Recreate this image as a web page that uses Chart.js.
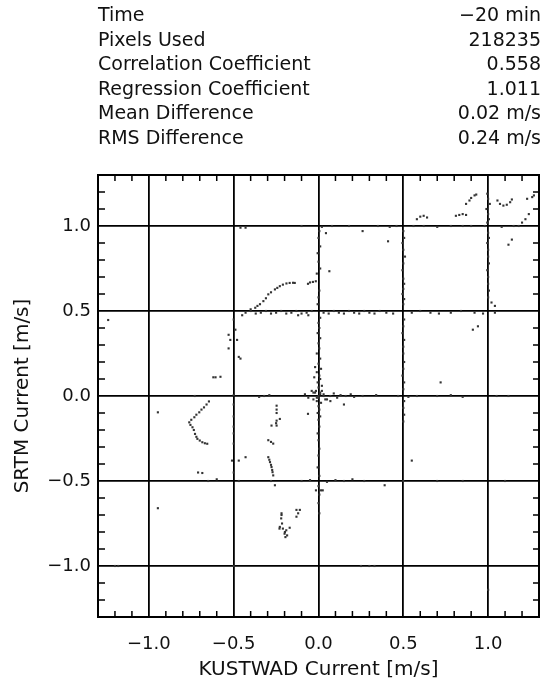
<!DOCTYPE html>
<html>
<head>
<meta charset="utf-8">
<script src="https://cdn.jsdelivr.net/npm/chart.js@4.4.1/dist/chart.umd.min.js"></script>
<style>
  html, body { margin: 0; padding: 0; background: #fff; }
  #wrap { width: 543px; height: 684px; }
</style>
</head>
<body>
<div id="wrap"><canvas id="scatter-chart" width="543" height="684"></canvas></div>
<script>
// Stats block above the plot
const statLabels = ["Time", "Pixels Used", "Correlation Coefficient", "Regression Coefficient", "Mean Difference", "RMS Difference"];
const statValues = ["\u221220 min", "218235", "0.558", "1.011", "0.02 m/s", "0.24 m/s"];

// Axis ticks (m/s)
const tickValues = [-1.0, -0.5, 0.0, 0.5, 1.0];
const axisMin = -1.3;
const axisMax = 1.3;

// Scatter points [KUSTWAD, SRTM], grouped by cluster
const arcPts = [[-0.4,0.51],[-0.373,0.519],[-0.36,0.53],[-0.345,0.54],[-0.325,0.558],[-0.31,0.575],[-0.296,0.598],[-0.28,0.61],[-0.257,0.627],[-0.243,0.636],[-0.228,0.646],[-0.21,0.655],[-0.189,0.662],[-0.17,0.665],[-0.15,0.666],[-0.14,0.665],[-0.062,0.66],[-0.05,0.668],[-0.033,0.671],[-0.016,0.675],[0.064,0.734]];
const zeroColPts = [[0.005,0.97],[0.0,0.93],[0.01,0.88],[-0.005,0.84],[0.0,0.79],[0.01,0.75],[-0.01,0.72],[0.005,0.62],[0.0,0.58],[-0.005,0.54],[0.01,0.46],[0.0,0.43],[0.005,0.4],[-0.005,0.37],[0.01,0.34],[0.0,0.31],[0.005,0.28],[-0.01,0.25],[0.01,0.22],[0.0,0.19],[-0.02,0.17],[0.015,0.16],[-0.01,0.14],[0.005,0.12],[-0.025,0.11],[0.01,0.1],[-0.005,0.08],[0.02,0.06],[0.0,0.05],[-0.015,0.03],[0.01,0.02],[0.0,-0.01],[-0.01,-0.03],[0.015,-0.04],[0.0,-0.06],[0.005,-0.08],[-0.005,-0.1],[0.01,-0.12],[0.0,-0.14],[0.005,-0.18],[-0.005,-0.22],[0.0,-0.26],[0.005,-0.31],[0.0,-0.35],[-0.005,-0.42],[0.005,-0.47],[0.0,-0.53],[0.005,-0.58],[0.0,-0.63],[0.005,-0.69]];
const halfColPts = [[0.5,0.97],[0.505,0.93],[0.495,0.9],[0.5,0.86],[0.51,0.82],[0.5,0.78],[0.495,0.74],[0.5,0.69],[0.505,0.66],[0.5,0.63],[0.495,0.6],[0.505,0.57],[0.5,0.54],[0.505,0.45],[0.5,0.41],[0.495,0.37],[0.505,0.33],[0.5,0.29],[0.5,0.25],[0.505,0.2],[0.5,0.16],[0.495,0.12],[0.505,0.08],[0.5,0.04],[0.505,-0.03],[0.5,-0.07],[0.505,-0.11],[0.5,-0.15]];
const oneColPts = [[0.995,1.19],[1.0,1.16],[1.01,1.13],[0.99,1.1],[1.0,1.07],[1.005,1.04],[0.995,1.02],[1.0,0.96],[1.005,0.93],[0.995,0.9],[1.0,0.86],[1.0,0.82],[1.005,0.78],[0.995,0.74],[1.0,0.7],[1.0,0.66],[1.005,0.62],[1.0,0.58],[1.02,0.55],[1.04,0.53]];
const halfRowPts = [[-0.43,0.49],[-0.4,0.5],[-0.37,0.485],[-0.34,0.49],[-0.31,0.5],[-0.28,0.485],[-0.25,0.49],[-0.22,0.5],[-0.19,0.485],[-0.16,0.49],[-0.13,0.5],[-0.1,0.485],[-0.07,0.49],[-0.04,0.5],[0.03,0.49],[0.06,0.485],[0.09,0.5],[0.12,0.49],[0.15,0.485],[0.18,0.5],[0.21,0.49],[0.24,0.485],[0.27,0.5],[0.3,0.49],[0.33,0.485],[0.36,0.5],[0.4,0.49],[0.44,0.485],[0.55,0.49],[0.6,0.5],[0.66,0.49],[0.71,0.485],[0.78,0.49],[0.84,0.5],[0.92,0.49],[0.97,0.485],[1.04,0.49]];
const zeroRowPts = [[-0.73,0.0],[-0.5,0.005],[-0.35,-0.005],[-0.32,0.0],[-0.29,0.005],[-0.08,0.01],[-0.06,-0.01],[-0.03,0.02],[0.03,0.01],[0.05,-0.02],[0.07,0.0],[0.09,0.015],[0.11,-0.01],[0.13,0.005],[0.16,0.0],[0.19,0.01],[0.21,-0.005],[0.26,0.0],[0.34,0.005],[0.47,0.0],[0.53,-0.005],[0.58,0.0],[0.7,0.0],[0.78,0.005],[0.85,-0.005],[1.05,0.0],[1.12,0.0]];
const lowRowPts = [[-0.65,-0.5],[-0.6,-0.49],[-0.47,-0.5],[-0.28,-0.5],[-0.1,-0.5],[-0.05,-0.495],[0.05,-0.505],[0.1,-0.495],[0.15,-0.5],[0.2,-0.49],[0.27,-0.5],[0.39,-0.525],[0.5,-0.5],[0.7,-0.5],[0.85,-0.5],[1.1,-0.5]];
const topRowPts = [[-0.46,0.99],[-0.43,0.99],[-0.1,1.0],[0.02,0.995],[0.08,1.0],[0.18,1.0],[0.35,1.0],[0.42,0.995],[0.46,1.0],[0.56,1.0],[0.62,1.0],[0.7,0.995],[0.78,1.0],[0.85,1.0],[0.9,1.0],[0.98,1.0],[1.08,0.995],[1.15,1.0]];
const negHalfColPts = [[-0.49,0.39],[-0.53,0.36],[-0.52,0.33],[-0.48,0.33],[-0.53,0.28],[-0.47,0.23],[-0.46,0.22],[-0.5,0.45],[-0.5,-0.05],[-0.5,-0.12],[-0.5,-0.18],[-0.5,-0.22],[-0.5,-0.28],[-0.51,-0.38],[-0.47,-0.38],[-0.43,-0.36],[-0.5,-0.45]];
const veePts = [[-0.646,-0.032],[-0.66,-0.05],[-0.675,-0.067],[-0.69,-0.08],[-0.703,-0.096],[-0.72,-0.11],[-0.732,-0.125],[-0.75,-0.14],[-0.762,-0.155],[-0.755,-0.17],[-0.743,-0.184],[-0.735,-0.2],[-0.728,-0.223],[-0.72,-0.24],[-0.714,-0.252],[-0.7,-0.262],[-0.685,-0.272],[-0.67,-0.278],[-0.656,-0.281]];
const topRightPts = [[0.58,1.04],[0.6,1.055],[0.62,1.06],[0.64,1.05],[0.81,1.06],[0.83,1.065],[0.85,1.07],[0.87,1.065],[0.87,1.13],[0.89,1.15],[0.9,1.165],[0.92,1.18],[0.93,1.185],[1.055,1.15],[1.07,1.13],[1.09,1.12],[1.11,1.125],[1.13,1.14],[1.14,1.156],[1.18,1.0],[1.2,1.02],[1.22,1.04],[1.24,1.07],[1.23,1.16],[1.26,1.17],[1.27,1.18],[1.12,0.89],[1.14,0.92],[0.41,0.91],[0.26,0.97],[0.044,0.958]];
const midLeftPts = [[-0.247,-0.057],[-0.247,-0.08],[-0.247,-0.1],[-0.247,-0.145],[-0.25,-0.16],[-0.247,-0.174],[-0.228,-0.135],[-0.277,-0.174],[-0.296,-0.26],[-0.28,-0.27],[-0.267,-0.28],[-0.296,-0.36],[-0.29,-0.375],[-0.286,-0.389],[-0.28,-0.405],[-0.277,-0.418],[-0.273,-0.435],[-0.271,-0.448],[-0.267,-0.467],[-0.257,-0.525]];
const bottomPts = [[-0.218,-0.69],[-0.218,-0.7],[-0.22,-0.72],[-0.215,-0.75],[-0.228,-0.77],[-0.21,-0.78],[-0.198,-0.8],[-0.19,-0.79],[-0.2,-0.81],[-0.185,-0.82],[-0.195,-0.83],[-0.17,-0.775],[-0.23,-0.78],[-0.13,-0.67],[-0.12,-0.69],[-0.13,-0.71],[-0.11,-0.67]];
const originPts = [[-0.04,0.03],[-0.02,0.02],[0.02,0.03],[0.04,-0.02],[0.07,-0.03],[-0.03,-0.02],[0.0,0.0],[0.01,0.01],[-0.01,-0.01],[0.03,0.0]];
const strayPts = [[-1.24,0.447],[-0.947,-0.096],[-0.947,-0.66],[-0.607,0.11],[-0.578,0.113],[-0.62,0.11],[-0.71,-0.45],[-0.685,-0.453],[-0.062,-0.105],[0.15,-0.05],[0.015,-0.555],[-0.015,-0.555],[0.025,-0.555],[0.72,0.08],[0.94,0.41],[0.91,0.39],[0.55,-0.38],[-0.45,0.475],[-0.12,0.475],[-0.06,0.475],[0.25,-1.0],[0.3,-1.0],[0.33,-1.0],[1.0,-1.14],[-0.5,-1.0],[-1.2,-1.0],[-1.18,-1.0]];

const clusters = [arcPts, zeroColPts, halfColPts, oneColPts, halfRowPts, zeroRowPts, lowRowPts, topRowPts,
  negHalfColPts, veePts, topRightPts, midLeftPts, bottomPts, originPts, strayPts];

const fontName = "'DejaVu Sans', sans-serif";

function fmt(v) {
  return v.toFixed(1).replace("-", "\u2212");
}

// inward minor ticks every 0.1 and the box round the plot
const framePlugin = {
  id: "frame",
  afterDatasetsDraw(chart) {
    const { ctx, chartArea: a, scales } = chart;
    ctx.save();
    ctx.strokeStyle = "#000";
    ctx.lineWidth = 1.5;
    ctx.beginPath();
    for (let i = -12; i <= 12; i++) {
      if (i % 5 === 0) continue;
      const px = scales.x.getPixelForValue(i / 10);
      const py = scales.y.getPixelForValue(i / 10);
      ctx.moveTo(px, a.bottom); ctx.lineTo(px, a.bottom - 6);
      ctx.moveTo(px, a.top); ctx.lineTo(px, a.top + 6);
      ctx.moveTo(a.left, py); ctx.lineTo(a.left + 7, py);
      ctx.moveTo(a.right, py); ctx.lineTo(a.right - 6, py);
    }
    ctx.stroke();
    ctx.lineWidth = 2;
    ctx.strokeRect(a.left, a.top, a.right - a.left, a.bottom - a.top);
    ctx.restore();
  }
};

// the statistics table at the top
const statsPlugin = {
  id: "stats",
  afterDraw(chart) {
    const ctx = chart.ctx;
    const a = chart.chartArea;
    ctx.save();
    ctx.fillStyle = "#111";
    ctx.font = "19px " + fontName;
    ctx.textBaseline = "middle";
    statLabels.forEach((label, i) => {
      const y = 16 + i * 24.6;
      ctx.textAlign = "left";
      ctx.fillText(label, a.left, y);
      ctx.textAlign = "right";
      ctx.fillText(statValues[i], 541, y);
    });
    ctx.restore();
  }
};

function axisOptions(title, isX) {
  return {
    type: "linear",
    min: axisMin,
    max: axisMax,
    afterBuildTicks: (scale) => {
      scale.ticks = tickValues.map((v) => ({ value: v }));
    },
    afterFit: (scale) => {
      if (isX) scale.height = 67;
      else scale.width = 98;
    },
    ticks: {
      color: "#111",
      font: { family: fontName, size: 18 },
      padding: isX ? 17 : 7,
      autoSkip: false,
      maxRotation: 0,
      callback: (v) => fmt(v),
    },
    grid: {
      color: "#000",
      lineWidth: 1.8,
      drawTicks: false,
    },
    border: { display: false },
    title: {
      display: true,
      text: title,
      color: "#111",
      font: { family: fontName, size: 20 },
      padding: isX ? { top: 0, bottom: 2 } : { top: 11, bottom: 0 },
    },
  };
}

new Chart(document.getElementById("scatter-chart"), {
  type: "scatter",
  data: {
    datasets: clusters.map((pts) => ({
      data: pts.map((p) => ({ x: p[0], y: p[1] })),
      backgroundColor: "#333",
      borderWidth: 0,
      pointStyle: "rect",
      pointRadius: 1.5,
    })),
  },
  options: {
    responsive: false,
    devicePixelRatio: 1,
    animation: false,
    layout: { padding: { top: 175, right: 1, left: 0, bottom: 0 } },
    plugins: {
      legend: { display: false },
      tooltip: { enabled: false },
    },
    scales: {
      x: axisOptions("KUSTWAD Current [m/s]", true),
      y: axisOptions("SRTM Current [m/s]", false),
    },
  },
  plugins: [framePlugin, statsPlugin],
});
</script>
</body>
</html>
